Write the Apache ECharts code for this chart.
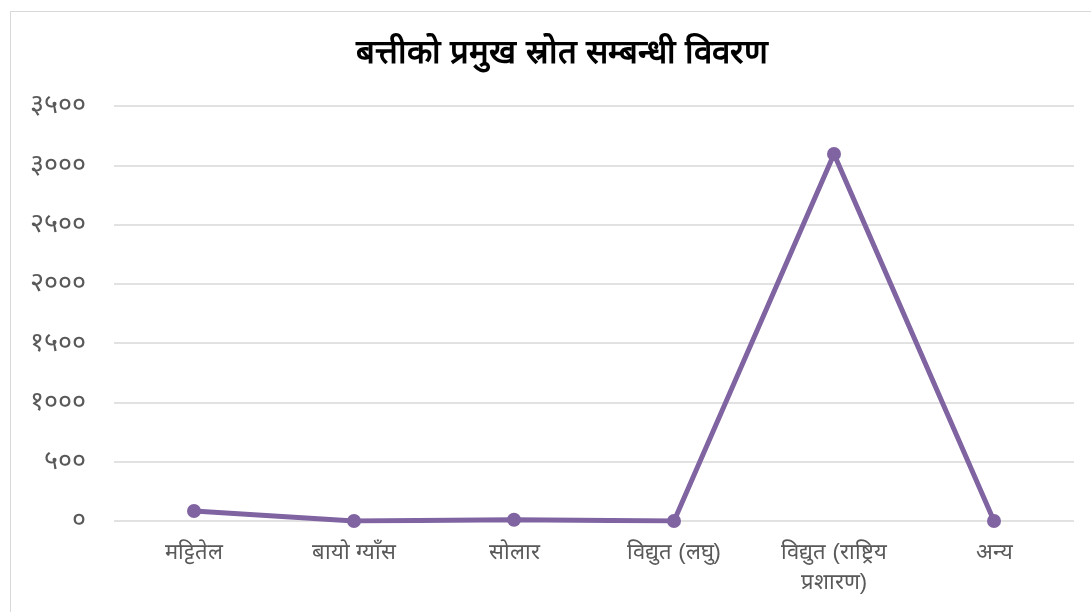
<!DOCTYPE html>
<html>
<head>
<meta charset="utf-8">
<script src="https://cdn.jsdelivr.net/npm/echarts@6/dist/echarts.min.js"></script>
<style>
  html, body { margin: 0; padding: 0; background: #fff; }
  #frame { position: absolute; left: 10px; top: 11px; width: 1100px; height: 620px; border: 1px solid #d9d9d9; }
  #chart { position: absolute; left: 0; top: 0; width: 1091px; height: 612px; }
</style>
</head>
<body>
<div id="frame"></div>
<div id="chart"></div>
<script>
  const titleText = 'बत्तीको प्रमुख स्रोत सम्बन्धी विवरण';
  const categories = ['मट्टितेल', 'बायो ग्याँस', 'सोलार', 'विद्युत (लघु)', 'विद्युत (राष्ट्रिय\nप्रशारण)', 'अन्य'];
  const values = [84, 0, 10, 0, 3095, 0];
  const yMin = 0;
  const yMax = 3500;
  const yStep = 500;

  const devDigits = ['०', '१', '२', '३', '४', '५', '६', '७', '८', '९'];
  const toDev = v => String(v).replace(/[0-9]/g, d => devDigits[+d]);

  const chart = echarts.init(document.getElementById('chart'));
  chart.setOption({
    animation: false,
    title: {
      text: titleText,
      left: 557,
      textAlign: 'center',
      top: 32,
      textStyle: { fontSize: 33, fontWeight: 'bold', color: '#000' }
    },
    grid: { left: 114, right: 17, top: 106, bottom: 91, containLabel: false },
    xAxis: {
      type: 'category',
      data: categories,
      axisLine: { show: false },
      axisTick: { show: false },
      axisLabel: { color: '#595959', fontSize: 22, margin: 17, lineHeight: 30, interval: 0 }
    },
    yAxis: {
      type: 'value',
      min: yMin,
      max: yMax,
      interval: yStep,
      axisLine: { show: false },
      axisTick: { show: false },
      axisLabel: { color: '#595959', fontSize: 27, margin: 28, formatter: v => toDev(v) },
      splitLine: { lineStyle: { color: '#d9d9d9', width: 1.5 } }
    },
    series: [{
      type: 'line',
      data: values,
      symbol: 'circle',
      symbolSize: 14,
      lineStyle: { color: '#8064a2', width: 5 },
      itemStyle: { color: '#8064a2' }
    }]
  });
</script>
</body>
</html>
